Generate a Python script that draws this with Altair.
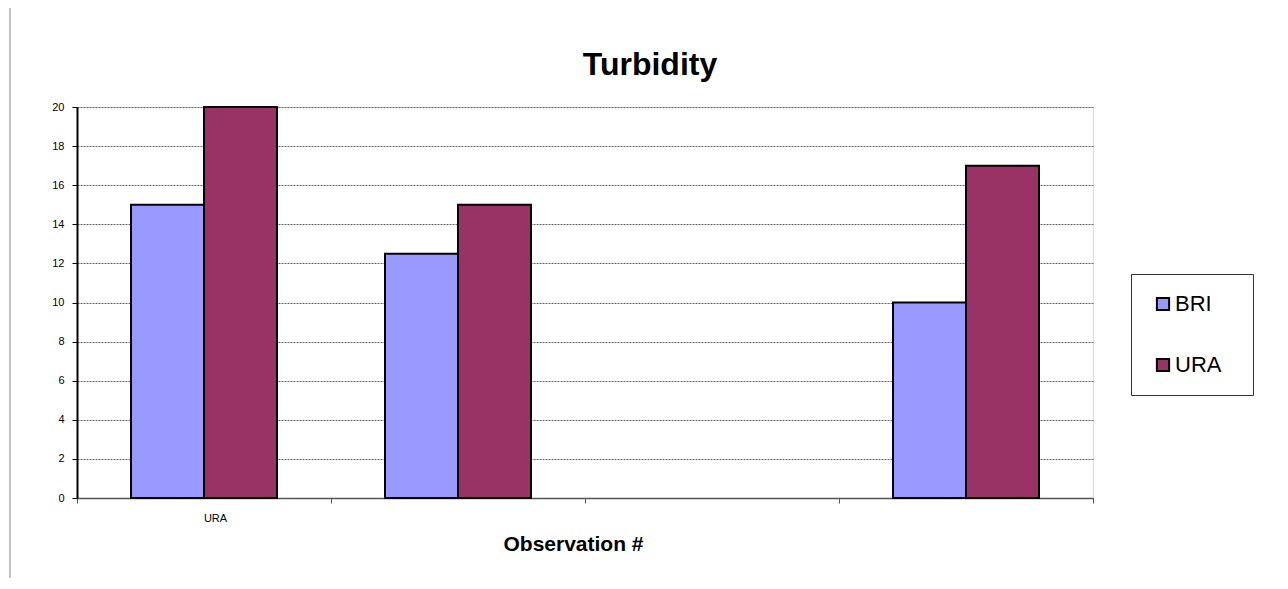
import altair as alt
import pandas as pd

# ---- data ----
observations = ["1", "2", "3", "4"]
x_labels = ["URA", "", "", ""]
series = ["BRI", "URA"]
bri_values = [15, 12.5, None, 10]
ura_values = [20, 15, None, 17]
colors = ["#9999FF", "#993366"]
y_ticks = [0, 2, 4, 6, 8, 10, 12, 14, 16, 18, 20]

rows = []
for obs, b, u in zip(observations, bri_values, ura_values):
    if b is not None:
        rows.append({"obs": obs, "series": "BRI", "value": b})
    if u is not None:
        rows.append({"obs": obs, "series": "URA", "value": u})
df = pd.DataFrame(rows)

label_map = "{" + ",".join(f"'{o}':'{l}'" for o, l in zip(observations, x_labels)) + "}"

bars = alt.Chart(df).mark_bar(stroke="black", strokeWidth=2).encode(
    x=alt.X(
        "obs:N",
        scale=alt.Scale(domain=observations, paddingInner=0, paddingOuter=0),
        axis=alt.Axis(
            title="Observation #",
            titleFont="Liberation Sans",
            titleFontSize=21,
            titleFontWeight="bold",
            titleColor="black",
            titlePadding=10,
            titleX=496,
            labelExpr=f"{label_map}[datum.value]",
            labelAngle=0,
            labelFont="Liberation Sans",
            labelFontSize=11,
            labelColor="black",
            labelPadding=9,
            labelOffset=11,
            tickBand="extent",
            tickSize=5,
            tickColor="#555555",
            domainColor="#555555",
            domainWidth=1.5,
            grid=False,
        ),
    ),
    xOffset=alt.XOffset("series:N", scale=alt.Scale(domain=series, paddingInner=0, paddingOuter=0.74)),
    y=alt.Y(
        "value:Q",
        scale=alt.Scale(domain=[0, 20], nice=False),
        axis=alt.Axis(
            title=None,
            values=y_ticks,
            labelFont="Liberation Sans",
            labelFontSize=11,
            labelColor="black",
            labelPadding=8,
            tickSize=5,
            tickColor="black",
            domainColor="black",
            domainWidth=2,
            grid=True,
            gridColor="#666666",
            gridDash=[2, 1],
            gridWidth=1,
        ),
    ),
    fill=alt.Fill(
        "series:N",
        scale=alt.Scale(domain=series, range=colors),
        legend=alt.Legend(
            title="\u00a0",
            titleOrient="right",
            titleFontSize=1,
            titlePadding=13,
            orient="none",
            legendX=1054,
            legendY=167,
            direction="vertical",
            symbolType="square",
            symbolSize=150,
            symbolStrokeColor="black",
            symbolStrokeWidth=2,
            symbolOffset=2,
            labelFont="Liberation Sans",
            labelFontSize=22,
            labelColor="black",
            labelOffset=1,
            rowPadding=39,
            padding=19,
            strokeColor="#333333",
            fillColor="white",
        ),
    ),
)

frame = alt.Chart(pd.DataFrame({"a": [0]})).mark_rule(color="#888888", strokeWidth=1).encode(
    x=alt.value(-67), y=alt.value(-100), y2=alt.value(500)
)

chart = (
    alt.layer(bars, frame)
    .properties(
        width=1016,
        height=391,
        autosize=alt.AutoSizeParams(type="none"),
        padding={"left": 69, "top": 99, "right": 180, "bottom": 80},
        title=alt.TitleParams(
            "Turbidity",
            font="Liberation Sans",
            fontSize=32,
            fontWeight="bold",
            color="black",
            anchor="middle",
            baseline="alphabetic",
            dx=65,
            offset=-100,
        ),
    )
    .configure_view(stroke="#707070", strokeWidth=2)
    .configure(background="white")
)

chart.save("out.html", embed_options={"renderer": "svg", "actions": False})
